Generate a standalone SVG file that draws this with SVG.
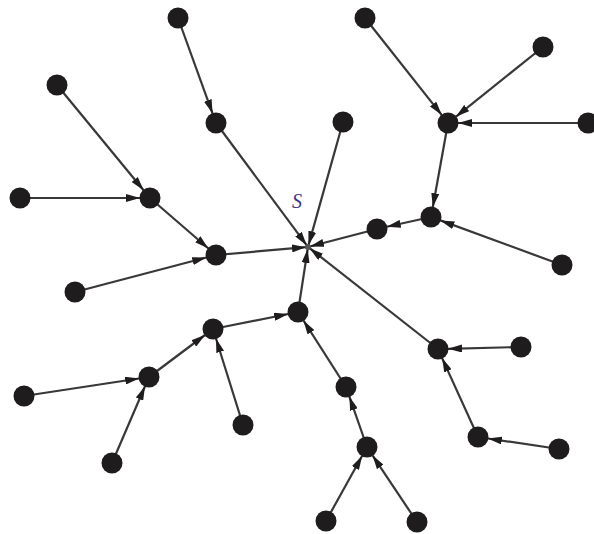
<svg xmlns="http://www.w3.org/2000/svg" width="594" height="534" viewBox="0 0 594 534">
<style>
.e{stroke:#383838;stroke-width:2.2;fill:none;marker-end:url(#ah)}
.n{fill:#1f1c1d}
.lbl{font-family:"Liberation Serif",serif;font-style:italic;font-size:20px;fill:#3a3580}
</style>
<defs>
<marker id="ah" viewBox="0 0 14 8" markerWidth="14" markerHeight="8" refX="14" refY="4" markerUnits="userSpaceOnUse" orient="auto">
<path d="M0,0 L14,4 L0,8 z" fill="#1f1c1d"/>
</marker>
</defs>
<rect width="594" height="534" fill="#fff"/>
<g id="connectors">
<line class="e" x1="178" y1="18" x2="212.6" y2="113.6"/>
<line class="e" x1="216" y1="123" x2="306.8" y2="245.4"/>
<line class="e" x1="57" y1="85" x2="143.6" y2="190.3"/>
<line class="e" x1="20" y1="198" x2="140" y2="198"/>
<line class="e" x1="150" y1="198" x2="208.4" y2="248.5"/>
<line class="e" x1="75" y1="292" x2="206.3" y2="257.5"/>
<line class="e" x1="216" y1="255" x2="306" y2="247.2"/>
<line class="e" x1="343" y1="122" x2="308.5" y2="245.1"/>
<line class="e" x1="365" y1="18" x2="441.8" y2="115.1"/>
<line class="e" x1="543" y1="47" x2="455.8" y2="116.8"/>
<line class="e" x1="588" y1="123" x2="458" y2="123"/>
<line class="e" x1="448" y1="123" x2="432.8" y2="207.2"/>
<line class="e" x1="562" y1="265" x2="440.4" y2="220.4"/>
<line class="e" x1="431" y1="217" x2="386.8" y2="226.8"/>
<line class="e" x1="377" y1="229" x2="309.9" y2="246.5"/>
<line class="e" x1="438" y1="349" x2="309.6" y2="248.2"/>
<line class="e" x1="521" y1="347" x2="448" y2="348.8"/>
<line class="e" x1="478" y1="437" x2="442.1" y2="358.1"/>
<line class="e" x1="559" y1="449" x2="487.9" y2="438.5"/>
<line class="e" x1="298" y1="312" x2="307.7" y2="249"/>
<line class="e" x1="213" y1="329" x2="288.2" y2="314"/>
<line class="e" x1="149" y1="377" x2="205" y2="335"/>
<line class="e" x1="243" y1="425" x2="216" y2="338.5"/>
<line class="e" x1="24" y1="396" x2="139.1" y2="378.5"/>
<line class="e" x1="112" y1="463" x2="145" y2="386.2"/>
<line class="e" x1="346" y1="387" x2="303.4" y2="320.4"/>
<line class="e" x1="367" y1="447" x2="349.3" y2="396.4"/>
<line class="e" x1="326" y1="521" x2="362.2" y2="455.8"/>
<line class="e" x1="417" y1="522" x2="372.5" y2="455.3"/>
</g>
<g id="nodeS"><circle cx="308" cy="247" r="3" fill="#555"/><text class="lbl" x="297" y="208" text-anchor="middle">S</text></g>
<g id="n1"><circle class="n" cx="178" cy="18" r="10.5"/></g>
<g id="n2"><circle class="n" cx="365" cy="18" r="10.5"/></g>
<g id="n3"><circle class="n" cx="543" cy="47" r="10.5"/></g>
<g id="n4"><circle class="n" cx="57" cy="85" r="10.5"/></g>
<g id="n5"><circle class="n" cx="216" cy="123" r="10.5"/></g>
<g id="n6"><circle class="n" cx="343" cy="122" r="10.5"/></g>
<g id="n7"><circle class="n" cx="448" cy="123" r="10.5"/></g>
<g id="n8"><circle class="n" cx="588" cy="123" r="10.5"/></g>
<g id="n9"><circle class="n" cx="20" cy="198" r="10.5"/></g>
<g id="n10"><circle class="n" cx="150" cy="198" r="10.5"/></g>
<g id="n11"><circle class="n" cx="431" cy="217" r="10.5"/></g>
<g id="n12"><circle class="n" cx="377" cy="229" r="10.5"/></g>
<g id="n14"><circle class="n" cx="216" cy="255" r="10.5"/></g>
<g id="n15"><circle class="n" cx="562" cy="265" r="10.5"/></g>
<g id="n16"><circle class="n" cx="75" cy="292" r="10.5"/></g>
<g id="n17"><circle class="n" cx="298" cy="312" r="10.5"/></g>
<g id="n18"><circle class="n" cx="213" cy="329" r="10.5"/></g>
<g id="n19"><circle class="n" cx="438" cy="349" r="10.5"/></g>
<g id="n20"><circle class="n" cx="521" cy="347" r="10.5"/></g>
<g id="n21"><circle class="n" cx="149" cy="377" r="10.5"/></g>
<g id="n22"><circle class="n" cx="346" cy="387" r="10.5"/></g>
<g id="n23"><circle class="n" cx="24" cy="396" r="10.5"/></g>
<g id="n24"><circle class="n" cx="243" cy="425" r="10.5"/></g>
<g id="n25"><circle class="n" cx="478" cy="437" r="10.5"/></g>
<g id="n26"><circle class="n" cx="559" cy="449" r="10.5"/></g>
<g id="n27"><circle class="n" cx="367" cy="447" r="10.5"/></g>
<g id="n28"><circle class="n" cx="112" cy="463" r="10.5"/></g>
<g id="n29"><circle class="n" cx="326" cy="521" r="10.5"/></g>
<g id="n30"><circle class="n" cx="417" cy="522" r="10.5"/></g>
</svg>
